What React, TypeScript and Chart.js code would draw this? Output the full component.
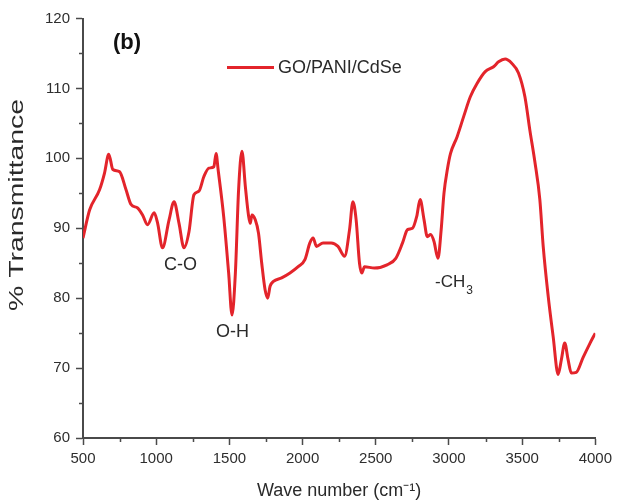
import { useEffect, useRef } from 'react';
import { Chart, registerables } from 'chart.js';

Chart.register(...registerables);

const seriesLabel = 'GO/PANI/CdSe';
const panelLabel = '(b)';
const xTitle = 'Wave number (cm\u207B\u00B9)';
const yTitle = '% Transmittance';

const waveNumbers = [
  500, 545, 613, 647, 676, 704, 749, 794, 828, 873, 907, 941, 986, 1009, 1043,
  1088, 1122, 1156, 1190, 1224, 1258, 1292, 1326, 1360, 1394, 1409, 1423, 1461,
  1495, 1518, 1541, 1563, 1586, 1609, 1631, 1643, 1654, 1677, 1699, 1721, 1744,
  1762, 1778, 1801, 1857, 1914, 1970, 2016, 2050, 2072, 2095, 2140, 2196, 2242,
  2287, 2321, 2344, 2366, 2389, 2405, 2423, 2491, 2581, 2637, 2683, 2717, 2751,
  2780, 2803, 2830, 2852, 2875, 2898, 2925, 2947, 2966, 2990, 3011, 3056, 3101,
  3146, 3192, 3248, 3305, 3339, 3384, 3429, 3475, 3519, 3553, 3587, 3621, 3644,
  3678, 3712, 3746, 3768, 3791, 3814, 3836, 3870, 3916, 3960, 4000,
];

const transmittance = [
  88.6, 92.6, 95.5, 97.9, 100.6, 98.4, 98.1, 95.5, 93.4, 92.9, 91.9, 90.5, 92.2, 90.8, 87.2,
  91.2, 93.8, 90.7, 87.2, 89.5, 94.8, 95.3, 97.4, 98.6, 98.8, 100.7, 98.4, 91.7,
  83.6, 77.6, 83.6, 95.5, 101.0, 96.0, 91.8, 90.7, 91.9, 91.2, 89.3, 85.0, 81.2,
  80.0, 81.7, 82.4, 82.9, 83.6, 84.5, 85.5, 87.9, 88.6, 87.4, 87.9, 87.9, 87.4,
  86.0, 89.8, 93.8, 91.2, 85.0, 83.6, 84.5, 84.3, 84.8, 85.7, 87.9, 89.8, 90.0,
  91.7, 94.1, 91.2, 88.8, 89.1, 88.1, 85.7, 89.8, 95.0, 98.5, 100.7, 103.1, 106.0,
  108.8, 110.7, 112.4, 113.1, 113.8, 114.2, 113.6, 112.2, 108.8, 104.0, 99.5, 94.1, 87.4,
  80.3, 74.5, 69.1, 71.2, 73.6, 71.2, 69.3, 69.4, 71.5, 73.4, 75.0,
];

const xMin = 500;
const xMax = 4000;
const xStep = 250;
const xMajor = 500;
const yMin = 60;
const yMax = 120;
const yStep = 5;
const yMajor = 10;

const peakLabels = [
  { text: 'C-O', x: 1166, y: 84.7 },
  { text: 'O-H', x: 1522, y: 75.1 },
];
const methylLabel = { main: '-CH', sub: '3', x: 2905, y: 82.3 };

const FONT = '"Liberation Sans", Arial, Helvetica, sans-serif';
const RED = '#e3242b';
const AXIS = '#4a4a4a';
const TEXT = '#2a2a2a';

const overlayPlugin = {
  id: 'overlay',
  afterDraw(chart: any) {
    const { ctx, chartArea, scales } = chart;
    const xs = scales.x;
    const ys = scales.y;
    ctx.save();

    // minor ticks
    ctx.strokeStyle = AXIS;
    ctx.lineWidth = 1.5;
    ctx.beginPath();
    xs.ticks.forEach((t: any) => {
      if (t.value % xMajor !== 0) {
        const px = Math.round(xs.getPixelForValue(t.value)) + 0.5;
        ctx.moveTo(px, chartArea.bottom);
        ctx.lineTo(px, chartArea.bottom + 4);
      }
    });
    ys.ticks.forEach((t: any) => {
      if (t.value % yMajor !== 0) {
        const py = Math.round(ys.getPixelForValue(t.value)) + 0.5;
        ctx.moveTo(chartArea.left - 4, py);
        ctx.lineTo(chartArea.left, py);
      }
    });
    ctx.stroke();

    // panel label
    ctx.fillStyle = '#111';
    ctx.font = `bold 22px ${FONT}`;
    ctx.textAlign = 'left';
    ctx.textBaseline = 'middle';
    ctx.fillText(panelLabel, 113, 43);

    // legend
    ctx.strokeStyle = RED;
    ctx.lineWidth = 3;
    ctx.beginPath();
    ctx.moveTo(227, 67.5);
    ctx.lineTo(274, 67.5);
    ctx.stroke();
    ctx.fillStyle = TEXT;
    ctx.font = `18px ${FONT}`;
    ctx.fillText(seriesLabel, 278, 68);

    // peak annotations
    ctx.textAlign = 'center';
    ctx.font = `18px ${FONT}`;
    peakLabels.forEach((p) => {
      ctx.fillText(p.text, xs.getPixelForValue(p.x), ys.getPixelForValue(p.y));
    });
    ctx.textAlign = 'left';
    const mx = xs.getPixelForValue(methylLabel.x);
    const my = ys.getPixelForValue(methylLabel.y);
    ctx.font = `17px ${FONT}`;
    ctx.fillText(methylLabel.main, mx, my);
    const w = ctx.measureText(methylLabel.main).width;
    ctx.font = `12px ${FONT}`;
    ctx.fillText(methylLabel.sub, mx + w + 1, my + 9);

    // y title (stretched like the reference)
    ctx.font = `21px ${FONT}`;
    const tw = ctx.measureText(yTitle).width;
    ctx.translate(17.5, 205);
    ctx.rotate(-Math.PI / 2);
    ctx.scale(212 / tw, 1);
    ctx.textAlign = 'center';
    ctx.fillText(yTitle, 0, 0);

    ctx.restore();
  },
};

export default function App() {
  const ref = useRef<HTMLCanvasElement>(null);

  useEffect(() => {
    if (!ref.current) return;
    const points = waveNumbers.map((x, i) => ({ x, y: transmittance[i] }));
    const chart = new Chart(ref.current, {
      type: 'line',
      data: {
        datasets: [
          {
            label: seriesLabel,
            data: points,
            borderColor: RED,
            backgroundColor: RED,
            borderWidth: 3,
            pointRadius: 0,
            cubicInterpolationMode: 'monotone',
            fill: false,
          },
        ],
      },
      options: {
        animation: false,
        responsive: false,
        maintainAspectRatio: false,
        layout: { padding: { left: 0, right: 18, top: 18.5, bottom: 0 } },
        plugins: {
          legend: { display: false },
          tooltip: { enabled: false },
        },
        scales: {
          x: {
            type: 'linear',
            min: xMin,
            max: xMax,
            afterFit: (s: any) => {
              s.height = 62;
            },
            border: { display: true, color: AXIS, width: 2 },
            grid: {
              drawOnChartArea: false,
              drawTicks: true,
              tickLength: 7,
              tickWidth: 1.5,
              tickColor: (c: any) => (c.tick && c.tick.value % xMajor === 0 ? AXIS : 'rgba(0,0,0,0)'),
            },
            ticks: {
              stepSize: xStep,
              autoSkip: false,
              maxRotation: 0,
              padding: 5,
              color: '#2e2e2e',
              font: { family: FONT, size: 15 },
              callback: (v: any) => (Number(v) % xMajor === 0 ? String(v) : ''),
            },
            title: {
              display: true,
              text: xTitle,
              color: TEXT,
              font: { family: FONT, size: 18 },
              padding: { top: 0, bottom: -2 },
            },
          },
          y: {
            type: 'linear',
            min: yMin,
            max: yMax,
            afterFit: (s: any) => {
              s.width = 83;
            },
            border: { display: true, color: AXIS, width: 2 },
            grid: {
              drawOnChartArea: false,
              drawTicks: true,
              tickLength: 7,
              tickWidth: 1.5,
              tickColor: (c: any) => (c.tick && c.tick.value % yMajor === 0 ? AXIS : 'rgba(0,0,0,0)'),
            },
            ticks: {
              stepSize: yStep,
              autoSkip: false,
              padding: 6,
              color: '#2e2e2e',
              font: { family: FONT, size: 15 },
              callback: (v: any) => (Number(v) % yMajor === 0 ? String(v) : ''),
            },
            title: { display: false },
          },
        },
      },
      plugins: [overlayPlugin],
    });
    return () => chart.destroy();
  }, []);

  return (
    <div style={{ position: 'absolute', left: 0, top: 0, width: 617, height: 500, background: '#fff' }}>
      <canvas ref={ref} width={617} height={500} style={{ display: 'block', width: 617, height: 500 }} />
    </div>
  );
}
